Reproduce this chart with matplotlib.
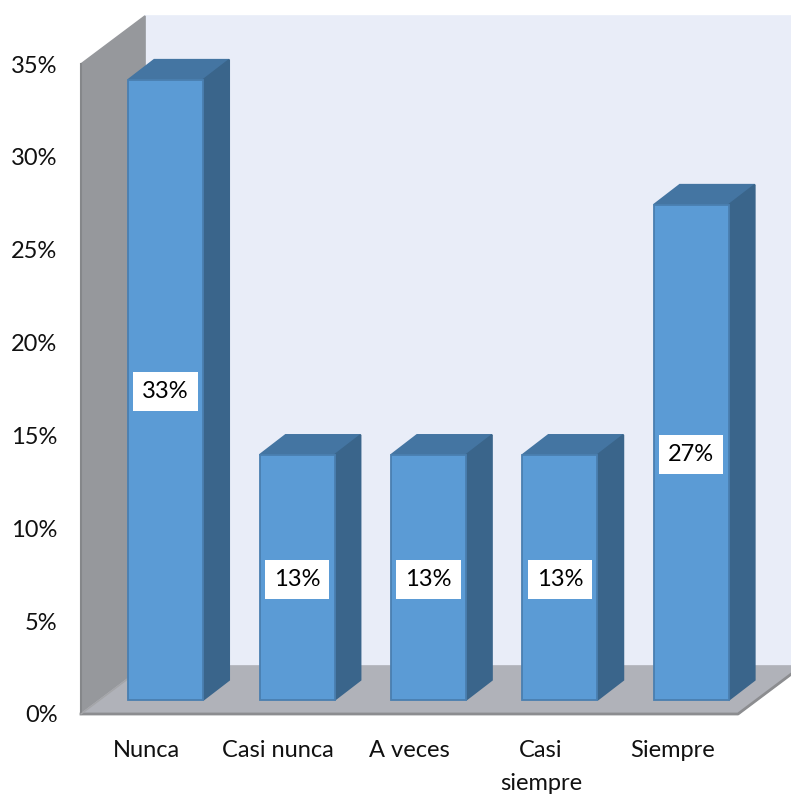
import matplotlib
matplotlib.use('Agg')
import matplotlib.pyplot as plt
from matplotlib.patches import Polygon

categories = ['Nunca', 'Casi nunca', 'A veces', 'Casi\nsiempre', 'Siempre']
values = [33.4, 13.2, 13.2, 13.2, 26.67]
bar_labels = ['33%', '13%', '13%', '13%', '27%']
yticks = [0, 5, 10, 15, 20, 25, 30, 35]

plt.rcParams['font.family'] = ['Lato', 'DejaVu Sans']

fig = plt.figure(figsize=(7.91, 7.94), dpi=100)
# front plane of the fake 3d box, in pixels of the picture
ax = fig.add_axes([81 / 791, (794 - 714) / 794, 657 / 791, 650 / 794])
ax.set_xlim(-0.5, 4.5)
ax.set_ylim(0, 35)

# depth offsets in data units
wall_dx = 64 / 131.4
wall_dy = 48 / 18.57
bar_shift_x = 19 / 131.4
bar_shift_y = 14 / 18.57
depth_x = 26 / 131.4
depth_y = 20 / 18.57
bar_width = 75 / 131.4


def face(pts, color, edge=None, z=1):
    ax.add_patch(Polygon(pts, closed=True, facecolor=color, edgecolor=edge or color,
                         linewidth=1.2, zorder=z, clip_on=False))


# back wall
face([(-0.5 + wall_dx, wall_dy), (4.5 + wall_dx, wall_dy), (4.5 + wall_dx, 35 + wall_dy),
      (-0.5 + wall_dx, 35 + wall_dy)], '#e9edf8', z=1)
# left wall
face([(-0.5, 0), (-0.5 + wall_dx, wall_dy), (-0.5 + wall_dx, 35 + wall_dy), (-0.5, 35)], '#96989c', z=2)
# floor
face([(-0.5, 0), (4.5, 0), (4.5 + wall_dx, wall_dy), (-0.5 + wall_dx, wall_dy)], '#b0b2b9', z=2)
ax.plot([-0.5, 4.5, 4.5 + wall_dx * 0.83], [0, 0, wall_dy * 0.83], color='#8c8d90', lw=2, zorder=3, clip_on=False)
ax.plot([-0.5, -0.5], [0, 35], color='#85878a', lw=1.5, zorder=3, clip_on=False)
ax.plot([-0.5, -0.5 + wall_dx], [0, wall_dy], color='#a4a5a8', lw=1, zorder=3, clip_on=False)

xpos = list(range(len(categories)))
ax.bar([x + bar_shift_x for x in xpos], values, width=bar_width, bottom=bar_shift_y,
       color='#5b9bd5', edgecolor='#4a7fb0', linewidth=1.3, zorder=5)

for x, v, lab in zip(xpos, values, bar_labels):
    left = x + bar_shift_x - bar_width / 2
    right = left + bar_width
    bot = bar_shift_y
    top = bot + v
    # top and side faces
    face([(left, top), (right, top), (right + depth_x, top + depth_y), (left + depth_x, top + depth_y)],
         '#4475a2', z=4)
    face([(right, bot), (right + depth_x, bot + depth_y), (right + depth_x, top + depth_y), (right, top)],
         '#3a658b', z=4)
    ax.annotate(lab, (x + bar_shift_x, bot + v / 2), xytext=(0, -1.5), textcoords='offset points',
                ha='center', va='center', fontsize=17, color='black', zorder=6,
                bbox=dict(facecolor='white', edgecolor='none', boxstyle='square,pad=0.38'))

for s in ax.spines.values():
    s.set_visible(False)
ax.patch.set_visible(False)
ax.set_xticks(xpos)
ax.set_xticklabels(categories, fontsize=17, color='#111111', linespacing=1.7, va='top')
ax.set_yticks(yticks)
ax.set_yticklabels([str(t) + '%' for t in yticks], fontsize=17, color='#111111')
ax.tick_params(axis='x', length=0, pad=18.5)
ax.tick_params(axis='y', length=0, pad=17)

fig.savefig('out.png', dpi=100)
